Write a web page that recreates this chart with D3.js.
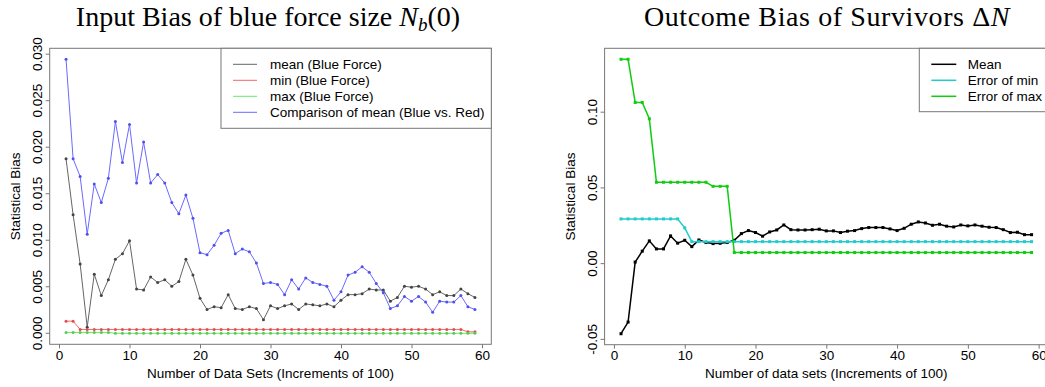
<!DOCTYPE html>
<meta charset="utf-8">
<style>
  body { margin: 0; background: #fff; }
  text { font-family: "Liberation Sans", Arial, sans-serif; }
  .title { font-family: "Liberation Serif", "DejaVu Serif", serif; font-size: 28px; letter-spacing: 0.6px; }
</style>
<svg width="1045" height="387"></svg>
<script src="https://d3js.org/d3.v7.min.js"></script>
<script>

// data sets 1..59 (increments of 100)
var sets = d3.range(1, 60);

// left panel: input bias of blue force size
var meanBlue = [0.0187,0.0127,0.0074,0.0006,0.0063,0.0040,0.0057,0.0079,0.0085,0.0099,
  0.0047,0.0046,0.0060,0.0054,0.0057,0.0050,0.0055,0.0079,0.0062,0.0037,
  0.0025,0.0028,0.0027,0.0041,0.0026,0.0025,0.0028,0.0026,0.0014,0.0029,
  0.0026,0.0029,0.0031,0.0025,0.0031,0.0030,0.0029,0.0031,0.0028,0.0035,
  0.0041,0.0041,0.0042,0.0047,0.0046,0.0046,0.0034,0.0038,0.0050,0.0049,
  0.0050,0.0047,0.0041,0.0044,0.0040,0.0040,0.0047,0.0042,0.0038];
var minBlue = [0.00125,0.00125].concat(d3.range(55).map(function() { return 0.00036; }), [0.0001,0.0001]);
var maxBlue = d3.range(7).map(function() { return 0.00004; }).concat(d3.range(52).map(function() { return -0.00006; }));
var compMean = [0.0294,0.0187,0.0168,0.0106,0.0160,0.0140,0.0166,0.0227,0.0183,0.0224,
  0.0161,0.0205,0.0161,0.0170,0.0161,0.0140,0.0128,0.0148,0.0123,0.0086,
  0.0084,0.0094,0.0107,0.0110,0.0085,0.0090,0.0087,0.0075,0.0053,0.0054,
  0.0052,0.0041,0.0057,0.0047,0.0059,0.0054,0.0052,0.0050,0.0035,0.0044,
  0.0062,0.0065,0.0071,0.0065,0.0053,0.0043,0.0026,0.0029,0.0039,0.0034,
  0.0039,0.0033,0.0022,0.0034,0.0033,0.0033,0.0040,0.0028,0.0025];

// right panel: outcome bias of survivors
var meanOut = [-0.0466,-0.0389,0.0007,0.0079,0.0147,0.0094,0.0094,0.0180,0.0132,0.0151,
  0.0109,0.0153,0.0136,0.0129,0.0131,0.0136,0.0151,0.0195,0.0215,0.0202,
  0.0178,0.0206,0.0219,0.0252,0.0221,0.0219,0.0219,0.0221,0.0224,0.0213,
  0.0213,0.0202,0.0211,0.0215,0.0228,0.0235,0.0235,0.0235,0.0226,0.0215,
  0.0230,0.0257,0.0272,0.0265,0.0250,0.0257,0.0244,0.0239,0.0252,0.0246,
  0.0252,0.0244,0.0237,0.0235,0.0221,0.0202,0.0204,0.0188,0.0188];
var errMin = [0.0292,0.0292,0.0292,0.0292,0.0292,0.0292,0.0292,0.0292,0.0292,0.0233]
  .concat(d3.range(49).map(function() { return 0.0142; }));
var errMax = [0.1346,0.1346,0.1061,0.1061,0.0953,0.0534,0.0534,0.0534,0.0534,0.0534,
  0.0534,0.0534,0.0534,0.0507,0.0507,0.0507]
  .concat(d3.range(43).map(function() { return 0.0070; }));

var xTicks = [0, 10, 20, 30, 40, 50, 60];
var yTicksLeft = [0, 0.005, 0.010, 0.015, 0.020, 0.025, 0.030];
var yTicksRight = [-0.05, 0, 0.05, 0.10];

var svg = d3.select("svg");
var FS = 13.5;

// R style range: extend by 4% on each side
function rRange(vals) {
  var e = d3.extent(vals), pad = (e[1] - e[0]) * 0.04;
  return [e[0] - pad, e[1] + pad];
}

function asciiMinus(fmt) {
  return function(d) { return fmt(d).replace("\u2212", "-"); };
}

function panel(opt) {
  var x = d3.scaleLinear().domain(rRange(sets)).range([opt.left, opt.right]);
  var allY = d3.merge(opt.series.map(function(s) { return s.values; }));
  var y = d3.scaleLinear().domain(rRange(allY)).range([opt.bottom, opt.top]);

  // axes
  svg.append("g")
      .attr("transform", "translate(0," + opt.bottom + ")")
      .call(d3.axisBottom(x).tickValues(xTicks).tickSize(4).tickPadding(2).tickFormat(d3.format("d")))
      .call(function(g) {
        g.select(".domain").remove();
        g.selectAll(".tick line").attr("stroke", "#777");
        g.selectAll("text").attr("font-size", FS).attr("fill", "#000").attr("font-family", "Liberation Sans, Arial, sans-serif");
      });

  var ya = svg.append("g")
      .attr("transform", "translate(" + opt.left + ",0)")
      .call(d3.axisLeft(y).tickValues(opt.yTicks).tickSize(4).tickFormat(asciiMinus(opt.yFormat)));
  ya.select(".domain").remove();
  ya.selectAll(".tick line").attr("stroke", "#777");
  ya.selectAll("text")
      .attr("font-size", FS).attr("fill", "#000").attr("font-family", "Liberation Sans, Arial, sans-serif")
      .attr("text-anchor", "middle")
      .attr("x", null).attr("dy", null)
      .attr("transform", "translate(" + opt.yLabX + ",0) rotate(-90)");

  // box
  svg.append("rect")
      .attr("x", opt.left).attr("y", opt.top)
      .attr("width", opt.right - opt.left).attr("height", opt.bottom - opt.top)
      .attr("fill", "none").attr("stroke", "#777").attr("stroke-width", 1);

  // series
  var line = d3.line().x(function(d, i) { return x(sets[i]); }).y(function(d) { return y(d); });
  opt.series.forEach(function(s) {
    svg.append("path")
        .datum(s.values)
        .attr("fill", "none")
        .attr("stroke", s.color)
        .attr("stroke-width", opt.lw)
        .attr("d", line);
    if (opt.square) {
      svg.append("g").selectAll("rect").data(s.values).join("rect")
          .attr("x", function(d, i) { return x(sets[i]) - 1.5; })
          .attr("y", function(d) { return y(d) - 1.5; })
          .attr("width", 3).attr("height", 3)
          .attr("fill", s.point);
    } else {
      svg.append("g").selectAll("circle").data(s.values).join("circle")
          .attr("cx", function(d, i) { return x(sets[i]); })
          .attr("cy", function(d) { return y(d); })
          .attr("r", 1.5)
          .attr("fill", s.point);
    }
  });

  // axis titles
  svg.append("text")
      .attr("x", (opt.left + opt.right) / 2).attr("y", 378)
      .attr("text-anchor", "middle").attr("font-size", FS)
      .text(opt.xTitle);
  svg.append("text")
      .attr("transform", "translate(" + opt.yTitleX + "," + ((opt.top + opt.bottom) / 2) + ") rotate(-90)")
      .attr("text-anchor", "middle").attr("font-size", FS)
      .text("Statistical Bias");

  // legend
  var lg = opt.legend;
  svg.append("rect")
      .attr("x", lg.x).attr("y", opt.top)
      .attr("width", opt.right - lg.x).attr("height", lg.h)
      .attr("fill", "#fff").attr("stroke", "#777");
  opt.series.forEach(function(s, i) {
    var yy = opt.top + 16 + i * 16;
    svg.append("line")
        .attr("x1", lg.x + lg.l1).attr("x2", lg.x + lg.l2)
        .attr("y1", yy).attr("y2", yy)
        .attr("stroke", s.color).attr("stroke-width", opt.lw);
    svg.append("text")
        .attr("x", lg.x + lg.tx).attr("y", yy + 5)
        .attr("font-size", FS)
        .text(s.name);
  });

  return { x: x, y: y };
}

panel({
  left: 49.7, right: 491.3, top: 48.3, bottom: 344.3,
  yTicks: yTicksLeft, yFormat: d3.format(".3f"), yLabX: -8, yTitleX: 20,
  lw: 1, square: false,
  xTitle: "Number of Data Sets (Increments of 100)",
  legend: { x: 221, h: 80, l1: 12, l2: 36, tx: 49 },
  series: [
    { name: "mean (Blue Force)", values: meanBlue, color: "#666666", point: "#444444" },
    { name: "min (Blue Force)", values: minBlue, color: "#f06a6a", point: "#e05050" },
    { name: "max (Blue Force)", values: maxBlue, color: "#6ae66a", point: "#50d050" },
    { name: "Comparison of mean (Blue vs. Red)", values: compMean, color: "#6a6aff", point: "#5050ee" }
  ]
});

panel({
  left: 604.6, right: 1048, top: 48.3, bottom: 344.7,
  yTicks: yTicksRight, yFormat: d3.format(".2f"), yLabX: -8, yTitleX: 575,
  lw: 1.5, square: true,
  xTitle: "Number of data sets (Increments of 100)",
  legend: { x: 919.3, h: 63.4, l1: 12, l2: 37, tx: 48.5 },
  series: [
    { name: "Mean", values: meanOut, color: "#000000", point: "#000000" },
    { name: "Error of min", values: errMin, color: "#22cccc", point: "#22cccc" },
    { name: "Error of max", values: errMax, color: "#11cc11", point: "#11cc11" }
  ]
});

// titles
var t1 = svg.append("text").attr("class", "title").attr("x", 268).attr("y", 26)
    .attr("text-anchor", "middle").style("letter-spacing", "0px");
t1.append("tspan").text("Input Bias of blue force size ");
t1.append("tspan").attr("font-style", "italic").text("N");
t1.append("tspan").attr("font-style", "italic").attr("font-size", 19).attr("dy", 5).text("b");
t1.append("tspan").attr("dy", -5).text("(0)");

var t2 = svg.append("text").attr("class", "title").attr("x", 827).attr("y", 26).attr("text-anchor", "middle");
t2.append("tspan").text("Outcome Bias of Survivors \u0394");
t2.append("tspan").attr("font-style", "italic").text("N");

</script>
